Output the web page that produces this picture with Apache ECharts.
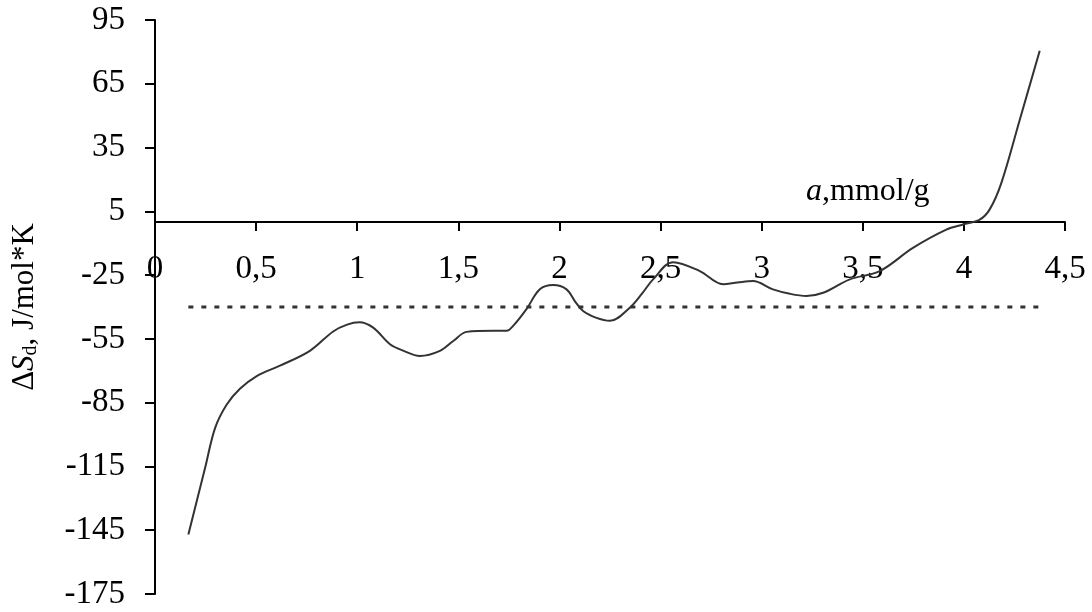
<!DOCTYPE html>
<html>
<head>
<meta charset="utf-8">
<script src="https://cdn.jsdelivr.net/npm/echarts@6/dist/echarts.min.js"></script>
<style>
html,body{margin:0;padding:0;background:#fff;}
#chart{width:1092px;height:612px;}
</style>
</head>
<body>
<div id="chart"></div>
<script>
// a, mmol/g
const xValues = [0.165, 0.247, 0.297, 0.354, 0.42, 0.503, 0.618, 0.766, 0.881, 0.95, 1.01, 1.079, 1.162, 1.227, 1.31, 1.409, 1.475, 1.541, 1.672, 1.739, 1.771, 1.837, 1.903, 1.969, 2.035, 2.076, 2.117, 2.18, 2.249, 2.348, 2.41, 2.463, 2.562, 2.694, 2.809, 2.88, 2.957, 3.056, 3.14, 3.221, 3.304, 3.436, 3.584, 3.748, 3.913, 3.996, 4.078, 4.127, 4.185, 4.276, 4.375];
// ΔSd, J/mol*K
const dSValues = [-147, -116, -97, -86, -78.5, -72.5, -67.6, -60.6, -51.5, -48.3, -47.2, -49.7, -57.5, -60.5, -63, -60.6, -56, -51.7, -51.2, -51.2, -48.9, -41, -31.7, -29.7, -31.7, -37.2, -41.9, -45, -46.5, -40.3, -33.5, -27, -18.9, -23.1, -29.3, -28.5, -27.8, -31.7, -33.8, -34.8, -33.3, -27, -23.1, -12.2, -3.6, -1.2, 1.1, 5.8, 18.3, 48, 80.5];
// dotted reference level
const refX = [0.165, 4.375];
const refY = [-40, -40];
const xTicks = [0, 0.5, 1, 1.5, 2, 2.5, 3, 3.5, 4, 4.5];
const yTicks = [-175, -145, -115, -85, -55, -25, 5, 35, 65, 95];

const FONT = 'Liberation Serif';
const GRID = {left: 155, right: 27, top: 20, bottom: 18};
const H = 612;
const yMin = yTicks[0], yMax = yTicks[yTicks.length - 1];
// place the x axis where y = 0 crosses (value based)
const plotH = H - GRID.top - GRID.bottom;
const zeroFromBottom = (0 - yMin) / (yMax - yMin) * plotH;

const chart = echarts.init(document.getElementById('chart'), null, {renderer: 'canvas'});
chart.setOption({
  animation: false,
  backgroundColor: '#fff',
  grid: Object.assign({containLabel: false, outerBoundsMode: 'none'}, GRID),
  xAxis: {
    type: 'value',
    min: xTicks[0], max: xTicks[xTicks.length - 1], interval: 0.5,
    position: 'bottom',
    offset: -zeroFromBottom,
    splitLine: {show: false},
    axisLine: {onZero: false, lineStyle: {color: '#000', width: 2}},
    axisTick: {show: true, inside: false, length: 9, lineStyle: {color: '#000', width: 2}},
    axisLabel: {
      margin: 31, color: '#000', fontFamily: FONT, fontSize: 33,
      formatter: v => String(v).replace('.', ',')
    }
  },
  yAxis: {
    type: 'value',
    min: yMin, max: yMax, interval: 30,
    splitLine: {show: false},
    axisLine: {show: true, onZero: false, lineStyle: {color: '#000', width: 2}},
    axisTick: {show: true, length: 10, lineStyle: {color: '#000', width: 2}},
    axisLabel: {margin: 30, color: '#000', fontFamily: FONT, fontSize: 33},
    name: 'Δ{i|S}{sub|d}, J/mol*K',
    nameLocation: 'middle',
    nameRotate: 90,
    nameGap: 114,
    nameTextStyle: {
      color: '#000', fontFamily: FONT, fontSize: 31,
      rich: {
        i: {fontFamily: FONT, fontSize: 31, fontStyle: 'italic', color: '#000'},
        sub: {fontFamily: FONT, fontSize: 20, color: '#000', verticalAlign: 'bottom', padding: [12, 0, 0, 0]}
      }
    }
  },
  graphic: [{
    type: 'text',
    left: 806, top: 176,
    style: {
      text: '{i|a},mmol/g',
      font: '32px "Liberation Serif"',
      fill: '#000',
      rich: {
        i: {fontFamily: FONT, fontSize: 32, fontStyle: 'italic', fill: '#000'}
      }
    }
  }],
  series: [
    {
      type: 'line',
      data: xValues.map((x, i) => [x, dSValues[i]]),
      smooth: 0.35,
      showSymbol: false,
      symbol: 'none',
      lineStyle: {color: '#333', width: 2}
    },
    {
      type: 'line',
      data: refX.map((x, i) => [x, refY[i]]),
      showSymbol: false,
      symbol: 'none',
      lineStyle: {color: '#333', width: 3, type: [5, 8]}
    }
  ]
});
</script>
</body>
</html>
